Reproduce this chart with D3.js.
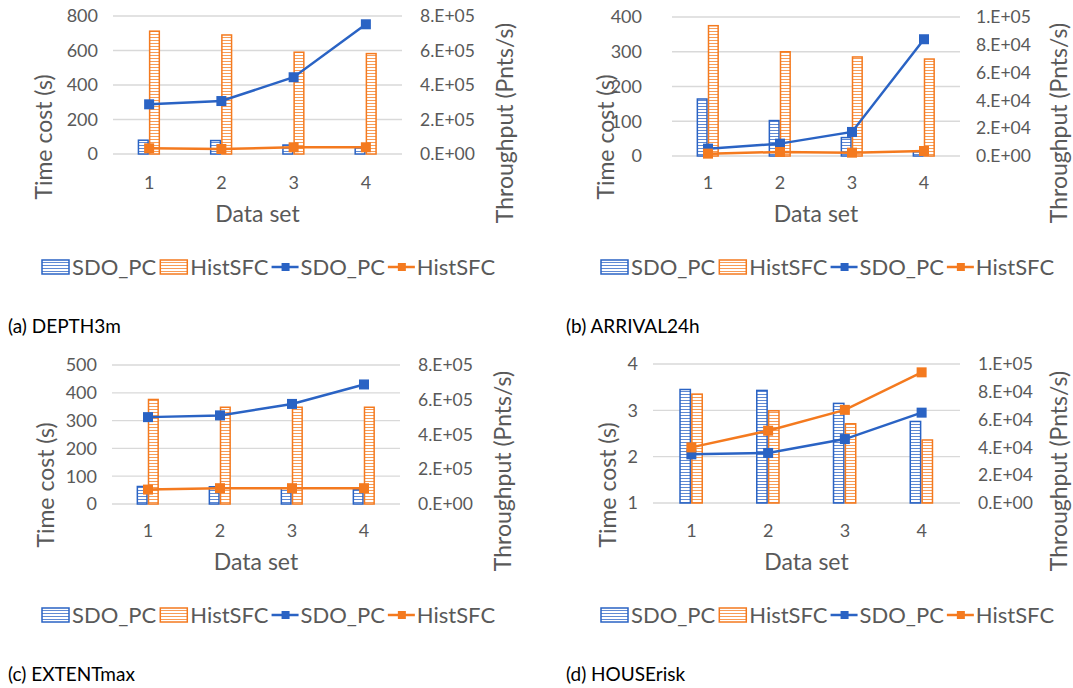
<!DOCTYPE html>
<html>
<head>
<meta charset="utf-8">
<script src="https://cdn.jsdelivr.net/npm/d3@7"></script>
<style>
  body { margin: 0; background: #fff; }
  svg text { font-family: Lato, "Open Sans", sans-serif; }
</style>
</head>
<body>
<svg width="1073" height="688"></svg>
<script>
const datasets = ["1", "2", "3", "4"];
const legendLabels = ["SDO_PC", "HistSFC", "SDO_PC", "HistSFC"];

// (a) DEPTH3m
const depthTimeSDO = [80, 78, 52, 42];
const depthTimeHist = [712, 690, 590, 582];
const depthThruSDO = [2.88e5, 3.07e5, 4.45e5, 7.52e5];
const depthThruHist = [3.3e4, 2.9e4, 3.9e4, 3.9e4];
const depthLeftTicks = [0, 200, 400, 600, 800];
const depthRightTicks = [0, 2e5, 4e5, 6e5, 8e5];

// (b) ARRIVAL24h
const arrivalTimeSDO = [164, 102, 53, 12];
const arrivalTimeHist = [375, 300, 285, 279];
const arrivalThruSDO = [5.3e3, 8.9e3, 1.73e4, 8.4e4];
const arrivalThruHist = [1.7e3, 2.9e3, 2.4e3, 3.6e3];
const arrivalLeftTicks = [0, 100, 200, 300, 400];
const arrivalRightTicks = [0, 2e4, 4e4, 6e4, 8e4, 1e5];

// (c) EXTENTmax
const extentTimeSDO = [63, 62, 57, 52];
const extentTimeHist = [376, 348, 348, 348];
const extentThruSDO = [5.0e5, 5.1e5, 5.76e5, 6.88e5];
const extentThruHist = [8.3e4, 9.1e4, 9.1e4, 9.1e4];
const extentLeftTicks = [0, 100, 200, 300, 400, 500];
const extentRightTicks = [0, 2e5, 4e5, 6e5, 8e5];

// (d) HOUSErisk
const houseTimeSDO = [3.45, 3.43, 3.15, 2.76];
const houseTimeHist = [3.35, 2.99, 2.71, 2.36];
const houseThruSDO = [3.5e4, 3.6e4, 4.6e4, 6.5e4];
const houseThruHist = [4.0e4, 5.2e4, 6.7e4, 9.4e4];
const houseLeftTicks = [1, 2, 3, 4];
const houseRightTicks = [0, 2e4, 4e4, 6e4, 8e4, 1e5];

const blue = "#2a63c4", orange = "#f47a1f", textGray = "#595959", gridGray = "#d9d9d9";

const svg = d3.select("svg");
const defs = svg.append("defs");
[["hatch-blue", blue], ["hatch-orange", orange]].forEach(([id, c]) => {
  const p = defs.append("pattern").attr("id", id)
    .attr("patternUnits", "userSpaceOnUse").attr("width", 4).attr("height", 3);
  p.append("rect").attr("width", 4).attr("height", 3).attr("fill", "#fff");
  p.append("rect").attr("y", 1).attr("width", 4).attr("height", 1).attr("fill", c).attr("opacity", 0.75);
});

const fmtE = v => {
  if (v === 0) return "0.E+00";
  const e = Math.floor(Math.log10(v));
  const m = Math.round(v / Math.pow(10, e));
  return `${m}.E+${String(e).padStart(2, "0")}`;
};

const panels = [
  { caption: "(a) DEPTH3m", x0: 113, x1: 402, yTop: 16, yBot: 154, left: [0, 800], leftTicks: depthLeftTicks,
    right: [0, 8e5], rightTicks: depthRightTicks, timeSDO: depthTimeSDO, timeHist: depthTimeHist,
    thruSDO: depthThruSDO, thruHist: depthThruHist,
    leftLabelX: 98, rightLabelX: 420, yTitleX: 44, y2TitleX: 505, legendX: 41, captionX: 8, dy: 0 },
  { caption: "(b) ARRIVAL24h", x0: 672, x1: 960, yTop: 17, yBot: 156, left: [0, 400], leftTicks: arrivalLeftTicks,
    right: [0, 1e5], rightTicks: arrivalRightTicks, timeSDO: arrivalTimeSDO, timeHist: arrivalTimeHist,
    thruSDO: arrivalThruSDO, thruHist: arrivalThruHist,
    leftLabelX: 642, rightLabelX: 976, yTitleX: 606, y2TitleX: 1059, legendX: 600, captionX: 566, dy: 0 },
  { caption: "(c) EXTENTmax", x0: 112, x1: 400, yTop: 365, yBot: 504, left: [0, 500], leftTicks: extentLeftTicks,
    right: [0, 8e5], rightTicks: extentRightTicks, timeSDO: extentTimeSDO, timeHist: extentTimeHist,
    thruSDO: extentThruSDO, thruHist: extentThruHist,
    leftLabelX: 97, rightLabelX: 418, yTitleX: 46, y2TitleX: 503, legendX: 41, captionX: 8, dy: 348 },
  { caption: "(d) HOUSErisk", x0: 653, x1: 960, yTop: 364, yBot: 503, left: [1, 4], leftTicks: houseLeftTicks,
    right: [0, 1e5], rightTicks: houseRightTicks, timeSDO: houseTimeSDO, timeHist: houseTimeHist,
    thruSDO: houseThruSDO, thruHist: houseThruHist,
    leftLabelX: 638, rightLabelX: 978, yTitleX: 608, y2TitleX: 1059, legendX: 600, captionX: 566, dy: 348 }
];

panels.forEach(drawPanel);

function drawPanel(p) {
  const g = svg.append("g");
  const x = d3.scaleBand().domain(datasets).range([p.x0, p.x1]);
  const y = d3.scaleLinear().domain(p.left).range([p.yBot, p.yTop]);
  const y2 = d3.scaleLinear().domain(p.right).range([p.yBot, p.yTop]);
  const bw = x.bandwidth() * 0.148;
  const cx = d => x(d) + x.bandwidth() / 2;

  // gridlines
  g.selectAll(".grid").data(p.leftTicks).enter().append("line")
    .attr("x1", p.x0).attr("x2", p.x1)
    .attr("y1", d => y(d)).attr("y2", d => y(d))
    .attr("stroke", gridGray).attr("stroke-width", 1.3);

  // left tick labels
  g.selectAll(".lt").data(p.leftTicks).enter().append("text")
    .attr("x", p.leftLabelX).attr("y", d => y(d)).attr("dy", "0.35em")
    .attr("text-anchor", "end").attr("fill", textGray).attr("font-size", 18)
    .text(d => d);

  // right tick labels
  g.selectAll(".rt").data(p.rightTicks).enter().append("text")
    .attr("x", p.rightLabelX).attr("y", d => y2(d)).attr("dy", "0.35em")
    .attr("fill", textGray).attr("font-size", 17.5)
    .text(fmtE);

  // x tick labels
  g.selectAll(".xt").data(datasets).enter().append("text")
    .attr("x", cx).attr("y", 183 + p.dy).attr("dy", "0.35em")
    .attr("text-anchor", "middle").attr("fill", textGray).attr("font-size", 18)
    .text(d => d);

  // axis titles
  g.append("text").attr("x", (p.x0 + p.x1) / 2).attr("y", 214 + p.dy).attr("dy", "0.35em")
    .attr("text-anchor", "middle").attr("fill", textGray).attr("font-size", 23).text("Data set");
  g.append("text").attr("transform", `translate(${p.yTitleX},${137 + p.dy}) rotate(-90)`)
    .attr("dy", "0.35em").attr("text-anchor", "middle").attr("fill", textGray).attr("font-size", 23)
    .text("Time cost (s)");
  g.append("text").attr("transform", `translate(${p.y2TitleX},${123 + p.dy}) rotate(-90)`)
    .attr("dy", "0.35em").attr("text-anchor", "middle").attr("fill", textGray).attr("font-size", 23)
    .text("Throughput (Pnts/s)");

  // bars
  const base = y(p.left[0]);
  g.selectAll(".bsdo").data(datasets).enter().append("rect")
    .attr("x", d => cx(d) - bw).attr("width", bw - 1)
    .attr("y", (d, i) => y(p.timeSDO[i])).attr("height", (d, i) => base - y(p.timeSDO[i]))
    .attr("fill", "url(#hatch-blue)").attr("stroke", blue).attr("stroke-width", 1.5);
  g.selectAll(".bhist").data(datasets).enter().append("rect")
    .attr("x", d => cx(d) + 0.5).attr("width", bw - 1)
    .attr("y", (d, i) => y(p.timeHist[i])).attr("height", (d, i) => base - y(p.timeHist[i]))
    .attr("fill", "url(#hatch-orange)").attr("stroke", orange).attr("stroke-width", 1.5);

  // lines
  [[p.thruSDO, blue], [p.thruHist, orange]].forEach(([vals, c]) => {
    const pts = datasets.map((d, i) => [cx(d), y2(vals[i])]);
    g.append("path").attr("d", d3.line()(pts))
      .attr("fill", "none").attr("stroke", c).attr("stroke-width", 2.5);
    g.selectAll(null).data(pts).enter().append("rect")
      .attr("x", d => d[0] - 5).attr("y", d => d[1] - 5)
      .attr("width", 10).attr("height", 10).attr("fill", c);
  });

  // legend
  const ly = 267 + p.dy;
  const leg = g.append("g");
  let cur = p.legendX;
  legendLabels.forEach((lab, i) => {
    const c = i % 2 === 0 ? blue : orange;
    if (i < 2) {
      leg.append("rect").attr("x", cur + 1).attr("y", ly - 7).attr("width", 27).attr("height", 14)
        .attr("fill", i === 0 ? "url(#hatch-blue)" : "url(#hatch-orange)")
        .attr("stroke", c).attr("stroke-width", 1.5);
      cur += 31;
    } else {
      leg.append("line").attr("x1", cur).attr("x2", cur + 27).attr("y1", ly).attr("y2", ly)
        .attr("stroke", c).attr("stroke-width", 2.5);
      leg.append("rect").attr("x", cur + 10).attr("y", ly - 4).attr("width", 8).attr("height", 8).attr("fill", c);
      cur += 29;
    }
    const t = leg.append("text").attr("x", cur).attr("y", ly).attr("dy", "0.35em")
      .attr("fill", textGray).attr("font-size", 22).text(lab);
    cur += t.node().getComputedTextLength() + 3;
  });

  // caption
  g.append("text").attr("x", p.captionX).attr("y", 333 + p.dy)
    .attr("fill", "#000").attr("font-size", 19).text(p.caption);
}
</script>
</body>
</html>
